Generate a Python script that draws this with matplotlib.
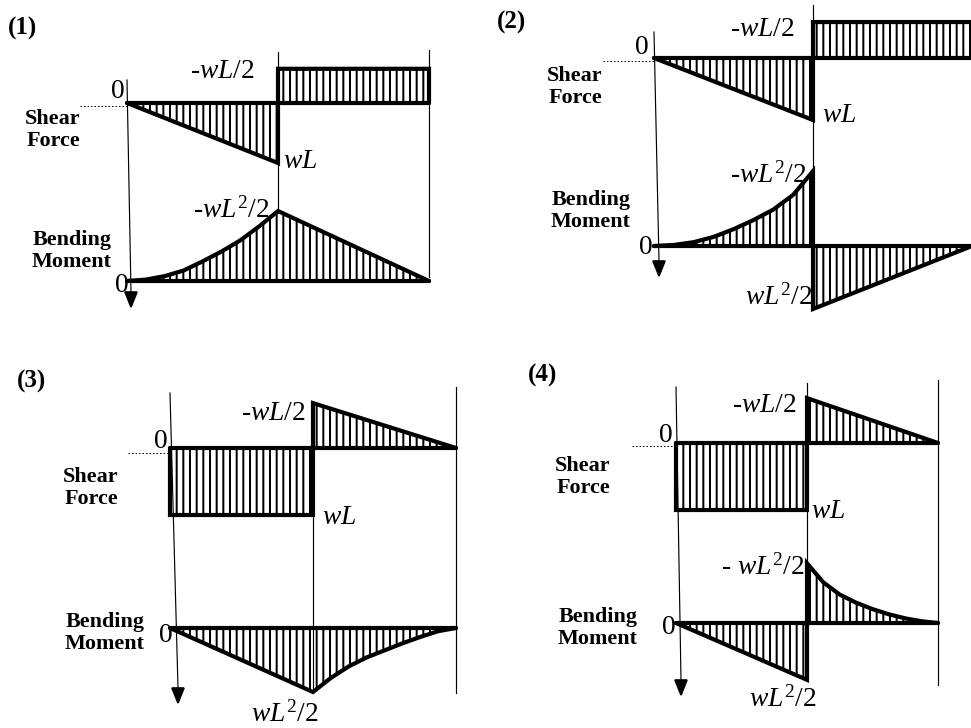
import numpy as np
import matplotlib.pyplot as plt
import matplotlib.transforms as mtransforms
from matplotlib.patches import Polygon

plt.rcParams['font.family'] = ['Liberation Serif', 'DejaVu Serif']
plt.rcParams['mathtext.fontset'] = 'custom'
plt.rcParams['mathtext.rm'] = 'Liberation Serif'
plt.rcParams['mathtext.it'] = 'Liberation Serif:italic'
plt.rcParams['hatch.linewidth'] = 1.2

# positions along the beam in units of L, ordinates
# shear in units of wL, moment in units of wL^2/2 (positive = drawn downward)
sf1_x = [0, 1, 1, 2, 2]
sf1_v = [0, 1.0, -0.57, -0.57, 0]
bm1_x = [0, 0.125, 0.25, 0.375, 0.5, 0.625, 0.75, 0.875, 1, 2]
bm1_v = [0, -0.02, -0.07, -0.15, -0.28, -0.42, -0.58, -0.78, -1.0, 0]

sf2_x = [0, 1, 1, 2, 2]
sf2_v = [0, 1.0, -0.58, -0.58, 0]
bm2_x = [0, 0.125, 0.25, 0.375, 0.5, 0.625, 0.75, 0.875, 1, 1, 2]
bm2_v = [0, -0.015, -0.055, -0.13, -0.24, -0.37, -0.52, -0.73, -1.07, 0.9, 0]

sf3_x = [0, 0, 1, 1, 2]
sf3_v = [0, 1.0, 1.0, -0.67, 0]
bm3_x = [0, 1, 1.125, 1.25, 1.375, 1.5, 1.625, 1.75, 1.875, 2]
bm3_v = [0, 1.0, 0.78, 0.6, 0.46, 0.35, 0.24, 0.14, 0.05, 0]

sf4_x = [0, 0, 1, 1, 2]
sf4_v = [0, 1.0, 1.0, -0.67, 0]
bm4_x = [0, 1, 1, 1.125, 1.25, 1.375, 1.5, 1.625, 1.75, 1.875, 2]
bm4_v = [0, 0.98, -1.03, -0.7, -0.49, -0.35, -0.24, -0.15, -0.08, -0.03, 0]

panel_names = ['(1)', '(2)', '(3)', '(4)']
sf_top_labels = ['-$\\mathit{wL/2}$'] * 4
sf_bot_labels = ['$\\mathit{wL}$'] * 4
bm_top_labels = ['-$\\mathit{wL^2/2}$', '-$\\mathit{wL^2/2}$', None, '- $\\mathit{wL^2/2}$']
bm_bot_labels = [None, '$\\mathit{wL^2/2}$', '$\\mathit{wL^2/2}$', '$\\mathit{wL^2/2}$']

# pixel layout of each panel: origin x, px per L, shear baseline, px per wL,
# moment baseline, px per wL^2/2
layout = [
    dict(x0=127, sx=151, sf0=103, sfs=60, bm0=281, bms=70),
    dict(x0=654, sx=159, sf0=58, sfs=62, bm0=246, bms=70),
    dict(x0=170, sx=143, sf0=448, sfs=67, bm0=628, bms=64),
    dict(x0=676, sx=131, sf0=443, sfs=67, bm0=623, bms=58),
]
# guide lines: left (top, arrow x, arrow top), mid (top, bottom), right (top, bottom)
guides = [
    dict(lt=80, ax_=131, at=292, mt=52, mb=213, rt=50, rb=277),
    dict(lt=32, ax_=659, at=261, mt=5, mb=310, rt=5, rb=241),
    dict(lt=393, ax_=178, at=688, mt=403, mb=692, rt=387, rb=693),
    dict(lt=387, ax_=681, at=680, mt=383, mb=680, rt=380, rb=685),
]
dotted = [(80, 106), (603, 61), (128, 453), (632, 446)]

# text anchors (px)
pos = [
    dict(name=(8, 28), z1=(125, 91), top=(222, 72), sf=(53, 130), wl=(283, 161),
         bmt=(231, 210), bm=(72, 251), z2=(129, 285), bmb=None),
    dict(name=(497, 22), z1=(649, 47), top=(762, 30), sf=(575, 87), wl=(822, 116),
         bmt=(768, 175), bm=(591, 211), z2=(653, 248), bmb=(779, 297)),
    dict(name=(17, 381), z1=(168, 442), top=(273, 414), sf=(91, 488), wl=(322, 518),
         bmt=None, bm=(105, 633), z2=(173, 635), bmb=(285, 714)),
    dict(name=(528, 375), z1=(673, 435), top=(764, 405), sf=(583, 477), wl=(811, 512),
         bmt=(763, 567), bm=(598, 628), z2=(676, 628), bmb=(783, 699)),
]

sf_x = [sf1_x, sf2_x, sf3_x, sf4_x]
sf_v = [sf1_v, sf2_v, sf3_v, sf4_v]
bm_x = [bm1_x, bm2_x, bm3_x, bm4_x]
bm_v = [bm1_v, bm2_v, bm3_v, bm4_v]

# dpi 120 so the '|||' hatch spacing comes out near the scanned one
fig = plt.figure(figsize=(971 / 120, 728 / 120), dpi=120)
ax = fig.add_axes([0, 0, 1, 1])
ax.set_xlim(0, 971)
ax.set_ylim(728, 0)
ax.axis('off')


def diagram(x, v, tr):
    poly_x = list(x) + list(x[::-1])
    poly_y = list(v) + [0] * len(x)
    ax.add_patch(Polygon(np.column_stack([poly_x, poly_y]), closed=True,
                         facecolor='none', edgecolor='black', hatch='|||',
                         linewidth=0, transform=tr))
    ax.plot([x[0], x[-1]], [0, 0], color='black', lw=2.5,
            solid_capstyle='round', transform=tr)
    ax.plot(x, v, color='black', lw=2.5, solid_joinstyle='miter',
            solid_capstyle='round', transform=tr)


bold = dict(fontsize=13.3, fontweight='bold', linespacing=1.15)
for i in range(4):
    L = layout[i]
    g = guides[i]
    p = pos[i]
    tr_sf = mtransforms.Affine2D().scale(L['sx'], L['sfs']).translate(L['x0'], L['sf0']) + ax.transData
    tr_bm = mtransforms.Affine2D().scale(L['sx'], L['bms']).translate(L['x0'], L['bm0']) + ax.transData

    # thin guide lines and the downward arrow
    xm = L['x0'] + L['sx']
    xr = L['x0'] + 2 * L['sx']
    ax.plot([L['x0'], g['ax_']], [g['lt'], g['at']], color='black', lw=0.7)
    ax.plot([xm, xm], [g['mt'], g['mb']], color='black', lw=0.7)
    ax.plot([xr, xr], [g['rt'], g['rb']], color='black', lw=0.7)
    ax.add_patch(Polygon([[g['ax_'] - 6, g['at']], [g['ax_'] + 6, g['at']],
                          [g['ax_'], g['at'] + 15]], closed=True, color='black'))
    d = dotted[i]
    ax.plot([d[0], L['x0']], [d[1], d[1]], color='black', lw=0.6, ls=(0, (1.5, 2)))

    diagram(sf_x[i], sf_v[i], tr_sf)
    diagram(bm_x[i], bm_v[i], tr_bm)

    ax.text(*p['name'], panel_names[i], fontsize=15, fontweight='bold',
            ha='left', va='center')
    ax.text(*p['z1'], '0', fontsize=16.5, ha='right', va='center')
    ax.text(*p['z2'], '0', fontsize=16.5, ha='right', va='center')
    ax.text(*p['top'], sf_top_labels[i], fontsize=16.5, ha='center', va='center')
    ax.text(*p['wl'], sf_bot_labels[i], fontsize=16.5, ha='left', va='center')
    ax.text(*p['sf'], 'Shear\nForce', ha='center', va='center', **bold)
    ax.text(*p['bm'], 'Bending\nMoment', ha='center', va='center', **bold)
    if p['bmt']:
        ax.text(*p['bmt'], bm_top_labels[i], fontsize=16.5, ha='center', va='center')
    if p['bmb']:
        ax.text(*p['bmb'], bm_bot_labels[i], fontsize=16.5, ha='center', va='center')

fig.savefig('out.png', dpi=120)
